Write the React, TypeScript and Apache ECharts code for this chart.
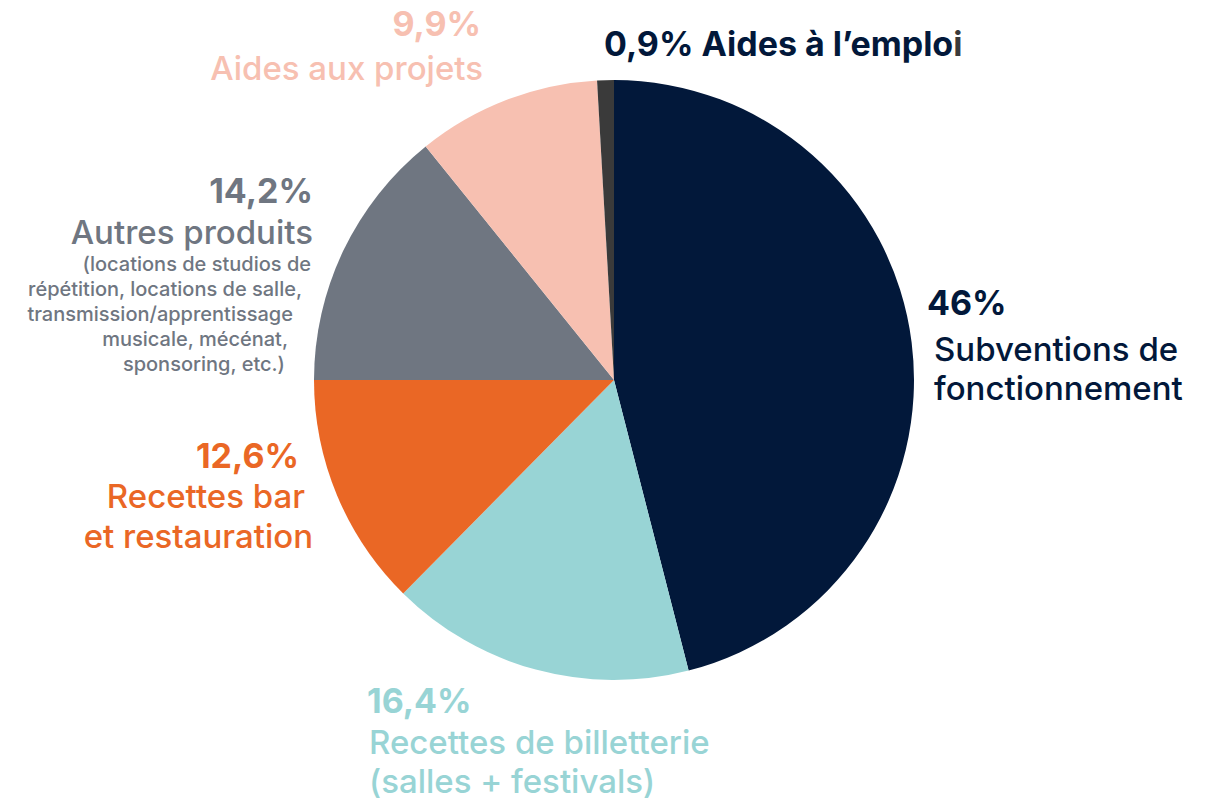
import React, { useEffect, useRef } from "react";
import * as echarts from "echarts";

const categories = [
  "Subventions de fonctionnement",
  "Recettes de billetterie (salles + festivals)",
  "Recettes bar et restauration",
  "Autres produits",
  "Aides aux projets",
  "Aides à l’emploi",
];
const values = [46, 16.4, 12.6, 14.2, 9.9, 0.9];
const percentLabels = ["46%", "16,4%", "12,6%", "14,2%", "9,9%", "0,9%"];
const colors = ["#02183A", "#98D4D5", "#EA6725", "#6F7681", "#F7C0B1", "#3A3A3A"];
const autresDetail = [
  "(locations de studios de",
  "répétition, locations de salle,",
  "transmission/apprentissage",
  "musicale, mécénat,",
  "sponsoring, etc.)",
];

const FONT = "Inter, 'Noto Sans', sans-serif";
const PCT = 34;
const NAME = 33;

export default function App() {
  const ref = useRef<HTMLDivElement>(null);
  useEffect(() => {
    const chart = echarts.init(ref.current!, null, { renderer: "svg" });
    const txt = (x: number, y: number, text: string, color: string, size: number, weight: number, align: string) => ({
      type: "text",
      x,
      y,
      style: {
        text,
        fill: color,
        fontSize: size,
        fontWeight: weight,
        fontFamily: FONT,
        textAlign: align,
        textVerticalAlign: "middle",
      },
    });
    const graphics: any[] = [
      // Subventions
      txt(927, 302, percentLabels[0], colors[0], PCT, 700, "left"),
      txt(934, 349, "Subventions de", colors[0], NAME, 500, "left"),
      txt(934, 388, "fonctionnement", colors[0], NAME, 500, "left"),
      // Billetterie
      txt(367, 700, percentLabels[1], colors[1], PCT, 700, "left"),
      txt(369, 742, "Recettes de billetterie", colors[1], NAME, 500, "left"),
      txt(369, 781, "(salles + festivals)", colors[1], NAME, 500, "left"),
      // Bar
      txt(299, 455, percentLabels[2], colors[2], PCT, 700, "right"),
      txt(305, 496, "Recettes bar", colors[2], NAME, 500, "right"),
      txt(313, 536, "et restauration", colors[2], NAME, 500, "right"),
      // Autres
      txt(313, 190, percentLabels[3], colors[3], PCT, 700, "right"),
      txt(313, 232, "Autres produits", colors[3], NAME, 500, "right"),
      // Aides projets
      txt(481, 23, percentLabels[4], colors[4], PCT, 700, "right"),
      txt(483, 68, categories[4], colors[4], NAME, 500, "right"),
      // Aides emploi
      {
        type: "text",
        x: 604,
        y: 43,
        style: {
          text: "{a|" + percentLabels[5] + " Aides à l’emplo}{b|i}",
          textVerticalAlign: "middle",
          rich: {
            a: { fill: colors[0], fontSize: PCT, fontWeight: 700, fontFamily: FONT },
            b: { fill: colors[5], fontSize: PCT, fontWeight: 700, fontFamily: FONT },
          },
        },
      },
    ];
    const detailRights = [311, 302, 293, 288, 285];
    autresDetail.forEach((line, i) => {
      graphics.push(txt(detailRights[i], 264 + i * 25, line, colors[3], 20, 500, "right"));
    });
    chart.setOption({
      animation: false,
      graphic: graphics,
      series: [
        {
          type: "pie",
          center: [614, 380],
          radius: [0, 300],
          startAngle: 90,
          clockwise: true,
          label: { show: false },
          labelLine: { show: false },
          emphasis: { disabled: true },
          itemStyle: { borderWidth: 0 },
          data: categories.map((name, i) => ({
            name,
            value: values[i],
            itemStyle: { color: colors[i] },
          })),
        },
      ],
    });
    return () => chart.dispose();
  }, []);
  return (
    <div
      ref={ref}
      style={{ position: "fixed", left: 0, top: 0, width: 1220, height: 801, background: "#fff" }}
    />
  );
}
